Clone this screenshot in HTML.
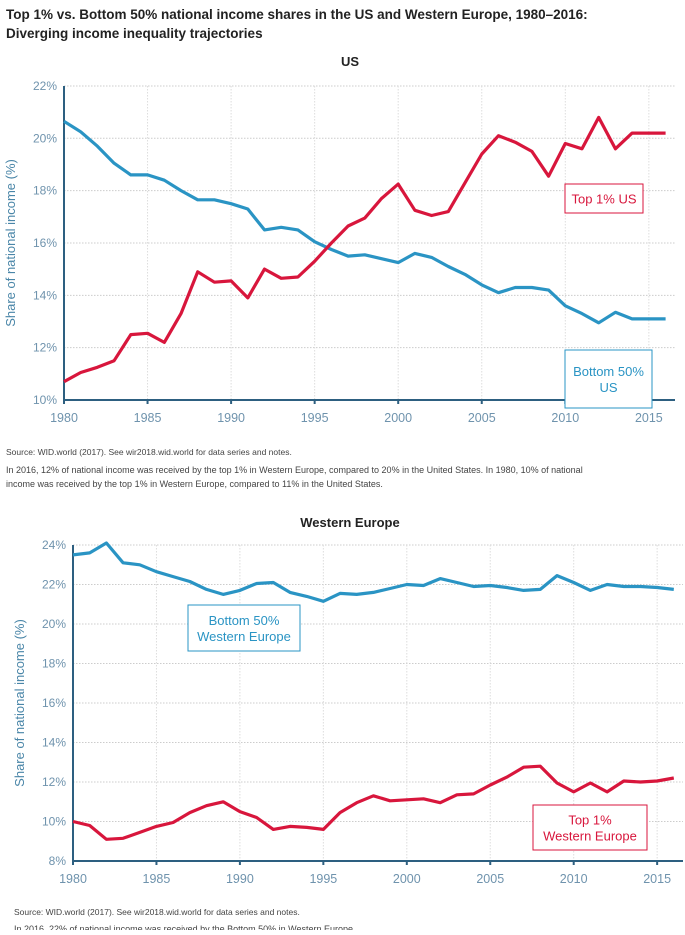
<!DOCTYPE html>
<html><head><meta charset="utf-8"><style>
body{margin:0;background:#fff;width:685px;height:930px;overflow:hidden;font-family:"Liberation Sans",sans-serif}
svg text{font-family:"Liberation Sans",sans-serif}
</style></head><body>
<svg id="c" width="685" height="930" viewBox="0 0 685 930" xmlns="http://www.w3.org/2000/svg">
<text x="6" y="19" font-size="13.5" font-weight="bold" fill="#222">Top 1% vs. Bottom 50% national income shares in the US and Western Europe, 1980–2016:</text>
<text x="6" y="38" font-size="13.5" font-weight="bold" fill="#222">Diverging income inequality trajectories</text>
<text x="350" y="66" font-size="13" font-weight="bold" fill="#222" text-anchor="middle">US</text>
<text x="6" y="455" font-size="8.5" fill="#444">Source:  WID.world (2017). See wir2018.wid.world for data series and notes.</text>
<text x="6" y="473" font-size="9" fill="#444">In 2016, 12% of national income was received by the top 1% in Western Europe, compared to 20% in the United States. In 1980, 10% of national</text>
<text x="6" y="487" font-size="9" fill="#444">income was received by the top 1% in Western Europe, compared to 11% in the United States.</text>
<text x="350" y="527" font-size="13" font-weight="bold" fill="#222" text-anchor="middle">Western Europe</text>
<text x="14" y="915" font-size="8.5" fill="#444">Source:  WID.world (2017). See wir2018.wid.world for data series and notes.</text>
<text x="14" y="932" font-size="9" fill="#444">In 2016, 22% of national income was received by the Bottom 50% in Western Europe</text>
<g id="g"></g>
</svg>
<script>
const years=[];for(let y=1980;y<=2016;y++)years.push(y);
const usTop1=[10.7,11.05,11.25,11.5,12.5,12.55,12.2,13.3,14.9,14.5,14.55,13.9,15.0,14.65,14.7,15.3,16.0,16.65,16.95,17.7,18.25,17.25,17.05,17.2,18.3,19.4,20.1,19.85,19.5,18.55,19.8,19.6,20.8,19.6,20.2,20.2,20.2];
const usBottom50=[20.65,20.25,19.7,19.05,18.6,18.6,18.4,18.0,17.65,17.65,17.5,17.3,16.5,16.6,16.5,16.05,15.75,15.5,15.55,15.4,15.25,15.6,15.45,15.1,14.8,14.4,14.1,14.3,14.3,14.2,13.6,13.3,12.95,13.35,13.1,13.1,13.1];
const weBottom50=[23.5,23.6,24.1,23.1,23.0,22.65,22.4,22.15,21.75,21.5,21.7,22.05,22.1,21.6,21.4,21.15,21.55,21.5,21.6,21.8,22.0,21.95,22.3,22.1,21.9,21.95,21.85,21.7,21.75,22.45,22.1,21.7,22.0,21.9,21.9,21.85,21.75];
const weTop1=[10.0,9.8,9.1,9.15,9.45,9.75,9.95,10.45,10.8,11.0,10.5,10.2,9.6,9.75,9.7,9.6,10.45,10.95,11.3,11.05,11.1,11.15,10.95,11.35,11.4,11.85,12.25,12.75,12.8,11.95,11.5,11.95,11.5,12.05,12.0,12.05,12.2];
const xTicks=[1980,1985,1990,1995,2000,2005,2010,2015];
const usYTicks=[10,12,14,16,18,20,22];
const weYTicks=[8,10,12,14,16,18,20,22,24];
const NS="http://www.w3.org/2000/svg";
const G=document.getElementById('g');
function mk(t,a,p){const e=document.createElementNS(NS,t);for(const k in a)e.setAttribute(k,a[k]);(p||G).appendChild(e);return e;}
function panel(cfg){
  const x=y=>cfg.x0+(y-1980)*cfg.px;
  const yy=v=>cfg.yb-(v-cfg.vmin)*cfg.py;
  const top=yy(cfg.yt[cfg.yt.length-1]);
  const g=mk('g',{});
  
  
  cfg.yt.forEach(v=>{
    if(v!==cfg.vmin){const l=mk('line',{x1:cfg.x0,x2:cfg.xr,y1:yy(v),y2:yy(v),stroke:'#ccc','stroke-dasharray':'1.5 1.5','stroke-width':1},g);
    }
    const t=mk('text',{x:cfg.x0-7,y:yy(v)+4,'font-size':12,fill:'#6f93ad','text-anchor':'end'},g);t.textContent=v+'%';
    
  });
  xTicks.forEach(v=>{
    if(v!==1980){const l=mk('line',{x1:x(v),x2:x(v),y1:top,y2:cfg.yb,stroke:'#ddd','stroke-dasharray':'1.5 1.5'},g);
    }
    const tk=mk('line',{x1:x(v),x2:x(v),y1:cfg.yb,y2:cfg.yb+4,stroke:'#2d5f80','stroke-width':2},g);
    
    const t=mk('text',{x:x(v),y:cfg.yb+22,'font-size':12.5,fill:'#6f93ad','text-anchor':'middle'},g);t.textContent=v;
    
  });
  const ax=mk('path',{d:`M${cfg.x0} ${top}V${cfg.yb}H${cfg.xr}`,fill:'none',stroke:'#2d5f80','stroke-width':2},g);
  
  const yl=mk('text',{transform:`translate(${cfg.ylx},${(top+cfg.yb)/2}) rotate(-90)`,'font-size':13,fill:'#4a86a8','text-anchor':'middle'},g);
  yl.textContent='Share of national income (%)';
  
  cfg.series.forEach(s=>{
    const p=mk('path',{d:s.v.map((v,i)=>(i?'L':'M')+x(years[i]).toFixed(1)+' '+yy(v).toFixed(1)).join(''),fill:'none',stroke:s.c,'stroke-width':3.2,'stroke-linejoin':'round'},g);
    
  });
  cfg.boxes.forEach(b=>{
    const r=mk('rect',{x:b.x,y:b.y,width:b.w,height:b.h,fill:'#fff',stroke:b.c,'stroke-width':1},g);
    
    b.t.forEach((s,i)=>{const t=mk('text',{x:b.x+b.w/2,y:b.y+b.h/2+5+(i-(b.t.length-1)/2)*16,'font-size':13,fill:b.c,'text-anchor':'middle'},g);t.textContent=s;
    });
  });
}
panel({name:'us',x0:64,px:16.71,xr:675,yb:400,vmin:10,py:26.17,yt:usYTicks,ylx:15,
 series:[{n:'us-bottom50-line',v:usBottom50,c:'#2a94c4'},{n:'us-top1-line',v:usTop1,c:'#d8163c'}],
 boxes:[{n:'us-top1-label',x:565,y:184,w:78,h:29,c:'#d8163c',t:['Top 1% US']},
        {n:'us-bottom50-label',x:565,y:350,w:87,h:58,c:'#2a94c4',t:['Bottom 50%','US']}]});
panel({name:'we',x0:73,px:16.69,xr:683,yb:861,vmin:8,py:19.75,yt:weYTicks,ylx:24,
 series:[{n:'we-bottom50-line',v:weBottom50,c:'#2a94c4'},{n:'we-top1-line',v:weTop1,c:'#d8163c'}],
 boxes:[{n:'we-bottom50-label',x:188,y:605,w:112,h:46,c:'#2a94c4',t:['Bottom 50%','Western Europe']},
        {n:'we-top1-label',x:533,y:805,w:114,h:45,c:'#d8163c',t:['Top 1%','Western Europe']}]});
</script>
</body></html>
